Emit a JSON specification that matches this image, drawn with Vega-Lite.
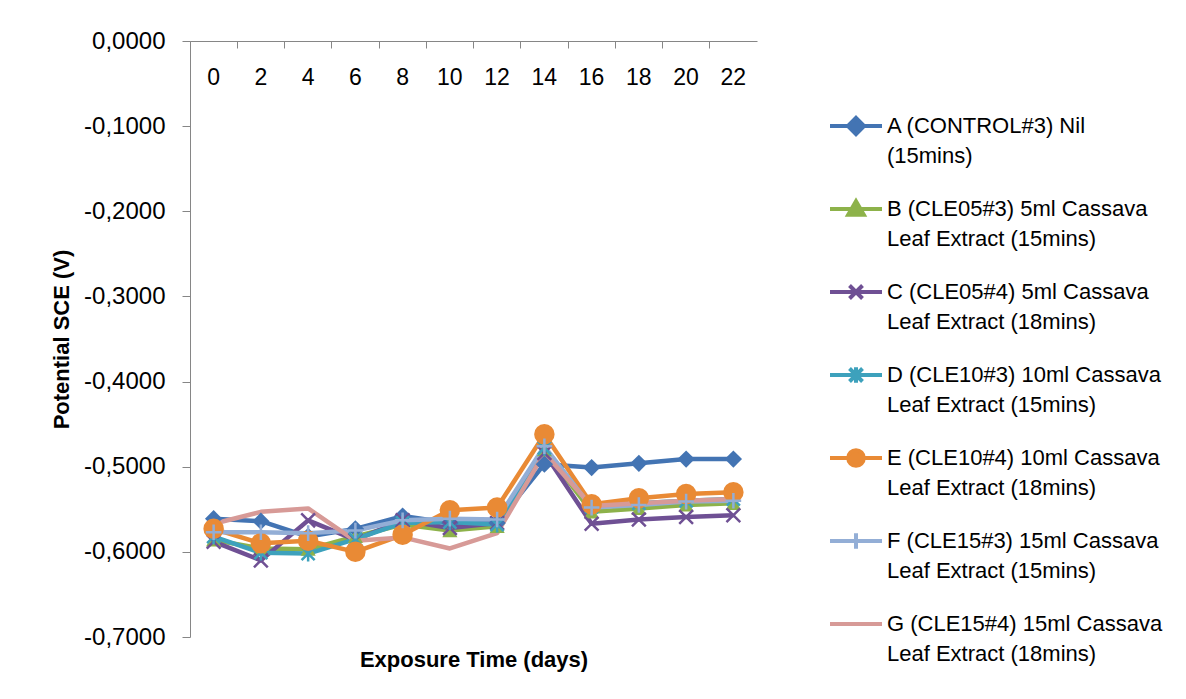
{
  "$schema": "https://vega.github.io/schema/vega-lite/v6.json",
  "width": 567,
  "height": 596,
  "autosize": {"type": "none"},
  "padding": {"left": 190, "top": 41, "right": 429, "bottom": 62},
  "background": "white",
  "config": {
    "view": {"stroke": null},
    "font": "Liberation Sans",
    "axis": {"labelColor": "#000000", "titleColor": "#000000", "domainColor": "#868686", "tickColor": "#868686", "grid": false, "labelFont": "Liberation Sans", "titleFont": "Liberation Sans", "labelFontWeight": "normal"}
  },
  "data": {"values": [
    {"day":0,"s":"A","v":-0.561},{"day":2,"s":"A","v":-0.564},{"day":4,"s":"A","v":-0.582},{"day":6,"s":"A","v":-0.573},{"day":8,"s":"A","v":-0.558},{"day":10,"s":"A","v":-0.566},{"day":12,"s":"A","v":-0.566},{"day":14,"s":"A","v":-0.497},{"day":16,"s":"A","v":-0.501},{"day":18,"s":"A","v":-0.496},{"day":20,"s":"A","v":-0.491},{"day":22,"s":"A","v":-0.491},
    {"day":0,"s":"B","v":-0.586},{"day":2,"s":"B","v":-0.596},{"day":4,"s":"B","v":-0.597},{"day":6,"s":"B","v":-0.582},{"day":8,"s":"B","v":-0.568},{"day":10,"s":"B","v":-0.575},{"day":12,"s":"B","v":-0.570},{"day":14,"s":"B","v":-0.480},{"day":16,"s":"B","v":-0.553},{"day":18,"s":"B","v":-0.549},{"day":20,"s":"B","v":-0.545},{"day":22,"s":"B","v":-0.543},
    {"day":0,"s":"C","v":-0.588},{"day":2,"s":"C","v":-0.610},{"day":4,"s":"C","v":-0.563},{"day":6,"s":"C","v":-0.586},{"day":8,"s":"C","v":-0.563},{"day":10,"s":"C","v":-0.572},{"day":12,"s":"C","v":-0.566},{"day":14,"s":"C","v":-0.484},{"day":16,"s":"C","v":-0.567},{"day":18,"s":"C","v":-0.562},{"day":20,"s":"C","v":-0.559},{"day":22,"s":"C","v":-0.557},
    {"day":0,"s":"D","v":-0.582},{"day":2,"s":"D","v":-0.601},{"day":4,"s":"D","v":-0.602},{"day":6,"s":"D","v":-0.585},{"day":8,"s":"D","v":-0.566},{"day":10,"s":"D","v":-0.565},{"day":12,"s":"D","v":-0.568},{"day":14,"s":"D","v":-0.478},{"day":16,"s":"D","v":-0.547},{"day":18,"s":"D","v":-0.543},{"day":20,"s":"D","v":-0.540},{"day":22,"s":"D","v":-0.538},
    {"day":0,"s":"E","v":-0.573},{"day":2,"s":"E","v":-0.590},{"day":4,"s":"E","v":-0.587},{"day":6,"s":"E","v":-0.600},{"day":8,"s":"E","v":-0.580},{"day":10,"s":"E","v":-0.551},{"day":12,"s":"E","v":-0.548},{"day":14,"s":"E","v":-0.462},{"day":16,"s":"E","v":-0.544},{"day":18,"s":"E","v":-0.537},{"day":20,"s":"E","v":-0.532},{"day":22,"s":"E","v":-0.530},
    {"day":0,"s":"F","v":-0.577},{"day":2,"s":"F","v":-0.577},{"day":4,"s":"F","v":-0.578},{"day":6,"s":"F","v":-0.575},{"day":8,"s":"F","v":-0.563},{"day":10,"s":"F","v":-0.561},{"day":12,"s":"F","v":-0.562},{"day":14,"s":"F","v":-0.476},{"day":16,"s":"F","v":-0.548},{"day":18,"s":"F","v":-0.545},{"day":20,"s":"F","v":-0.541},{"day":22,"s":"F","v":-0.540},
    {"day":0,"s":"G","v":-0.567},{"day":2,"s":"G","v":-0.553},{"day":4,"s":"G","v":-0.549},{"day":6,"s":"G","v":-0.587},{"day":8,"s":"G","v":-0.583},{"day":10,"s":"G","v":-0.596},{"day":12,"s":"G","v":-0.578},{"day":14,"s":"G","v":-0.484},{"day":16,"s":"G","v":-0.546},{"day":18,"s":"G","v":-0.543},{"day":20,"s":"G","v":-0.540},{"day":22,"s":"G","v":-0.538}
  ]},
  "encoding": {
    "x": {
      "field": "day", "type": "ordinal",
      "scale": {"type": "band", "paddingInner": 0, "paddingOuter": 0},
      "axis": null
    },
    "y": {
      "field": "v", "type": "quantitative",
      "scale": {"domain": [-0.7, 0], "nice": false, "zero": false},
      "axis": {"title": "Potential SCE (V)", "values": [-0.7, -0.6, -0.5, -0.4, -0.3, -0.2, -0.1, 0], "labelExpr": "replace(replace(format(datum.value, '.4f'), '.', ','), '\u2212', '-')", "labelFontSize": 24, "tickSize": 8, "labelPadding": 17, "titleFontSize": 22, "titleFontWeight": "bold", "titlePadding": 10}
    },
    "color": {
      "field": "s", "type": "nominal",
      "scale": {"domain": ["A","B","C","D","E","F","G"], "range": ["#4374B3","#8DB24A","#6F5094","#3DA1BC","#E98A35","#93AED6","#D79A97"]},
      "legend": {
        "orient": "none", "legendX": 638, "legendY": 57, "title": null, "padding": 0,
        "symbolSize": 2704, "symbolStrokeWidth": 4, "labelFontSize": 22, "labelFont": "Liberation Sans", "labelColor": "#000000", "labelLimit": 400, "labelOffset": 3, "rowPadding": 14, "labelBaseline": "middle",
        "labelExpr": "{'A':['A (CONTROL#3) Nil','(15mins)'],'B':['B (CLE05#3) 5ml Cassava','Leaf Extract (15mins)'],'C':['C (CLE05#4) 5ml Cassava','Leaf Extract (18mins)'],'D':['D (CLE10#3) 10ml Cassava','Leaf Extract (15mins)'],'E':['E (CLE10#4) 10ml Cassava','Leaf Extract (18mins)'],'F':['F (CLE15#3) 15ml Cassava','Leaf Extract (15mins)'],'G':['G (CLE15#4) 15ml Cassava','Leaf Extract (18mins)']}[datum.label]",
        "encode": {
          "symbols": {"update": {
            "shape": {"signal": "['M-1,0L1,0M0,-0.31L0.31,0L0,0.31L-0.31,0Z','M-1,0L1,0M0,-0.3L0.3,0.22L-0.3,0.22Z','M-1,0L1,0M-0.25,-0.25L0.25,0.25M-0.25,0.25L0.25,-0.25','M-1,0L1,0M-0.25,-0.25L0.25,0.25M-0.25,0.25L0.25,-0.25M0,-0.3L0,0.3','M-1,0L1,0M-0.3,0A0.3,0.3 0 1,0 0.3,0A0.3,0.3 0 1,0 -0.3,0Z','M-1,0L1,0M0,-0.3L0,0.3','M-1,0L1,0'][datum.index]"},
            "fill": {"scale": "color", "field": "value"},
            "stroke": {"scale": "color", "field": "value"},
            "strokeWidth": {"value": 4},
            "size": {"value": 2704},
            "opacity": {"value": 1}
          }},
          "labels": {"update": {"lineHeight": {"value": 30}}}
        }
      }
    }
  },
  "resolve": {"axis": {"x": "independent"}},
  "layer": [
    {
      "mark": {"type": "line", "strokeWidth": 4.5, "strokeJoin": "round"},
      "encoding": {
        "x": {
          "field": "day", "type": "ordinal",
          "scale": {"type": "band", "paddingInner": 0, "paddingOuter": 0},
          "axis": {"orient": "top", "title": null, "bandPosition": 0, "tickSize": -7, "labelPadding": -18, "labelBaseline": "top", "labelFontSize": 23, "labelFontWeight": "normal", "labelAngle": 0}
        }
      }
    },
    {
      "transform": [{"filter": "datum.s == 'A'"}],
      "mark": {"type": "point", "shape": "diamond", "size": 300, "filled": true, "opacity": 1},
      "encoding": {
        "x": {
          "field": "day", "type": "ordinal",
          "scale": {"type": "band", "paddingInner": 0, "paddingOuter": 0},
          "axis": {"orient": "bottom", "title": "Exposure Time (days)", "labels": false, "ticks": false, "domain": false, "titleFontSize": 22, "titleFontWeight": "bold", "titlePadding": 12}
        }
      }
    },
    {
      "transform": [{"filter": "datum.s == 'B'"}],
      "mark": {"type": "point", "shape": "triangle-up", "size": 230, "filled": true, "opacity": 1}
    },
    {
      "transform": [{"filter": "datum.s == 'C'"}],
      "mark": {"type": "point", "shape": "M-1,-1L1,1M-1,1L1,-1", "size": 190, "filled": false, "opacity": 1, "strokeWidth": 2.5}
    },
    {
      "transform": [{"filter": "datum.s == 'D'"}],
      "mark": {"type": "point", "shape": "M-1,-1L1,1M-1,1L1,-1M0,-1.2L0,1.2", "size": 170, "filled": false, "opacity": 1, "strokeWidth": 2.5}
    },
    {
      "transform": [{"filter": "datum.s == 'E'"}],
      "mark": {"type": "point", "shape": "circle", "size": 420, "filled": true, "opacity": 1}
    },
    {
      "transform": [{"filter": "datum.s == 'F'"}],
      "mark": {"type": "point", "shape": "M0,-1.2L0,1.2M-1.2,0L1.2,0", "size": 170, "filled": false, "opacity": 1, "strokeWidth": 2.5}
    }
  ]
}
